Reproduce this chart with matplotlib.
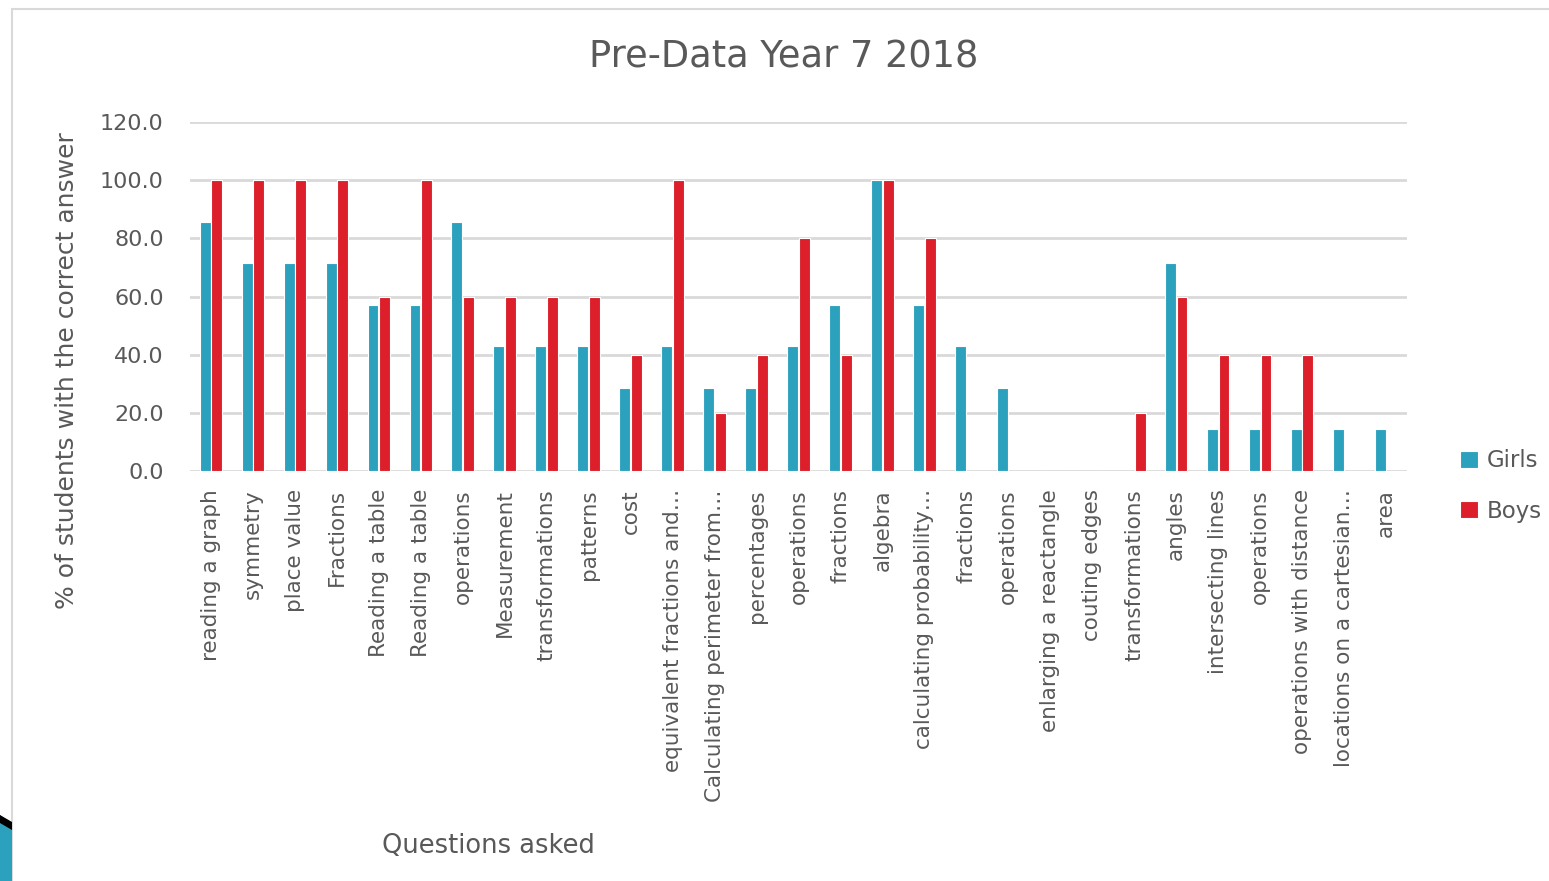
import matplotlib.pyplot as plt
import numpy as np
from matplotlib.patches import Rectangle, Polygon

plt.rcParams['font.family'] = ['DejaVu Sans']

questions = [
    'reading a graph', 'symmetry', 'place value', 'Fractions', 'Reading a table',
    'Reading a table', 'operations', 'Measurement', 'transformations', 'patterns',
    'cost', 'equivalent fractions and…', 'Calculating perimeter from…', 'percentages',
    'operations', 'fractions', 'algebra', 'calculating probability…', 'fractions',
    'operations', 'enlarging a reactangle', 'couting edges', 'transformations',
    'angles', 'intersecting lines', 'operations', 'operations with distance',
    'locations on a cartesian…', 'area',
]
girls = [85.7, 71.4, 71.4, 71.4, 57.1, 57.1, 85.7, 42.9, 42.9, 42.9,
         28.6, 42.9, 28.6, 28.6, 42.9, 57.1, 100.0, 57.1, 42.9, 28.6,
         0.0, 0.0, 0.0, 71.4, 14.3, 14.3, 14.3, 14.3, 14.3]
boys = [100, 100, 100, 100, 60, 100, 60, 60, 60, 60,
        40, 100, 20, 40, 80, 40, 100, 80, 0, 0,
        0, 0, 20, 60, 40, 40, 40, 0, 0]
y_ticks = [0, 20, 40, 60, 80, 100, 120]

teal = '#2CA1BE'
red = '#DC1F2A'
grey_text = '#595959'

fig = plt.figure(figsize=(15.49, 8.81), dpi=100)
ax = fig.add_axes([0.1227, 0.4654, 0.9083 - 0.1227, 0.8615 - 0.4654])

x = np.arange(len(questions))
w = 0.26
ax.bar(x - 0.14, girls, w, color=teal, edgecolor='white', linewidth=0.8, label='Girls', zorder=3)
ax.bar(x + 0.14, boys, w, color=red, edgecolor='white', linewidth=0.8, label='Boys', zorder=3)

ax.set_xlim(-0.5, len(questions) - 0.5)
ax.set_ylim(0, 120)
ax.set_yticks(y_ticks)
ax.set_yticklabels([f'{v:.1f}' for v in y_ticks], fontsize=16, color=grey_text)
ax.set_xticks(x)
ax.set_xticklabels(questions, rotation=90, fontsize=15.5, color=grey_text)
ax.tick_params(axis='y', length=0, pad=19)
ax.tick_params(axis='x', length=0, pad=13)
ax.grid(axis='y', color='#D9D9D9', linewidth=2, zorder=0)
for s in ax.spines.values():
    s.set_visible(False)

fig.text(784 / 1549, 1 - 57 / 881, 'Pre-Data Year 7 2018', fontsize=26.5, color=grey_text,
         ha='center', va='center')
fig.text(67 / 1549, 1 - 371 / 881, '% of students with the correct answer', rotation=90,
         fontsize=18, color=grey_text, ha='center', va='center')
fig.text(488 / 1549, 1 - 846 / 881, 'Questions asked', fontsize=18.5, color=grey_text,
         ha='center', va='center')

ax.legend(loc='center left', bbox_to_anchor=(1.027, -0.043), frameon=False,
          fontsize=16.5, labelcolor=grey_text, handlelength=0.75, handleheight=0.75,
          labelspacing=1.2, handletextpad=0.4)

# slide frame and corner accent
fig.add_artist(Rectangle((12 / 1549, -0.1), 1.2, 1 - 9 / 881 + 0.1, transform=fig.transFigure,
                         fill=False, edgecolor='#D9D9D9', linewidth=1.5))
fig.add_artist(Polygon([(0, 1 - 815 / 881), (12 / 1549, 1 - 825 / 881), (12 / 1549, 0), (0, 0)],
                       closed=True, transform=fig.transFigure, facecolor=teal, edgecolor='none'))
fig.add_artist(Polygon([(0, 1 - 815 / 881), (12 / 1549, 1 - 822 / 881), (12 / 1549, 1 - 830 / 881),
                        (0, 1 - 823 / 881)],
                       closed=True, transform=fig.transFigure, facecolor='black', edgecolor='none'))

fig.savefig('out.png', dpi=100)
